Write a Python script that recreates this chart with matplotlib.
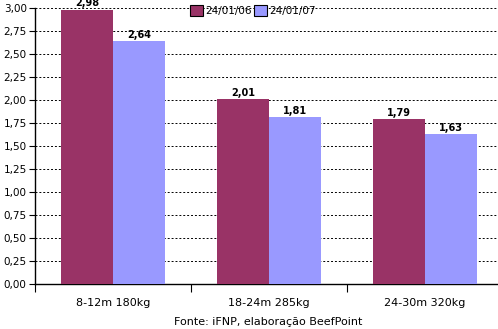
import numpy as np
import matplotlib.pyplot as plt

# Dados
categorias = ["8-12m 180kg", "18-24m 285kg", "24-30m 320kg"]
serie_06 = [2.98, 2.01, 1.79]
serie_07 = [2.64, 1.81, 1.63]
legendas = ["24/01/06", "24/01/07"]
yticks = np.arange(0, 3.01, 0.25)

cor_06 = "#993366"
cor_07 = "#9999FF"

plt.rcParams['font.family'] = 'DejaVu Sans'

fig = plt.figure(figsize=(4.98, 3.29), dpi=100)
ax = fig.add_axes([35/498, 45/329, 468/498, 276/329])

x = np.arange(len(categorias))
w = 1/3
b1 = ax.bar(x - w/2, serie_06, w, color=cor_06, label=legendas[0], zorder=3)
b2 = ax.bar(x + w/2, serie_07, w, color=cor_07, label=legendas[1], zorder=3)

for bars, vals in ((b1, serie_06), (b2, serie_07)):
    for r, v in zip(bars, vals):
        ax.text(r.get_x() + r.get_width()/2, v + 0.015, f"{v:.2f}".replace(".", ","),
                ha="center", va="bottom", fontsize=7, fontweight="bold")

ax.set_xlim(-0.5, 2.5)
ax.set_ylim(0, 3.0)
ax.set_yticks(yticks)
ax.set_yticklabels([f"{t:.2f}".replace(".", ",") for t in yticks], fontsize=7.5)
ax.set_xticks([-0.5, 0.5, 1.5])
ax.set_xticklabels([])
ax.set_xticks(x, minor=True)
ax.set_xticklabels(categorias, minor=True, fontsize=8)
ax.tick_params(axis="x", which="major", length=6, direction="out")
ax.tick_params(axis="x", which="minor", length=0, pad=10)
ax.tick_params(axis="y", length=4, pad=2)

ax.grid(axis="y", color="black", linestyle=(0, (2, 2)), linewidth=0.7, zorder=1)
for s in ("top", "right"):
    ax.spines[s].set_visible(False)
ax.spines["left"].set_linewidth(1)
ax.spines["bottom"].set_linewidth(1)

leg = ax.legend(loc="upper left", bbox_to_anchor=(151/468, 1.025), ncol=2, frameon=False,
                fontsize=7.5, handlelength=1.2, handleheight=1.2, handletextpad=0.2,
                columnspacing=0.3, borderaxespad=0)
for h in leg.legend_handles:
    h.set_edgecolor("black")
    h.set_linewidth(0.8)

fig.text(268/498, 1 - 322/329, "Fonte: iFNP, elaboração BeefPoint",
         ha="center", va="center", fontsize=8)

fig.savefig("out.png", dpi=100)
